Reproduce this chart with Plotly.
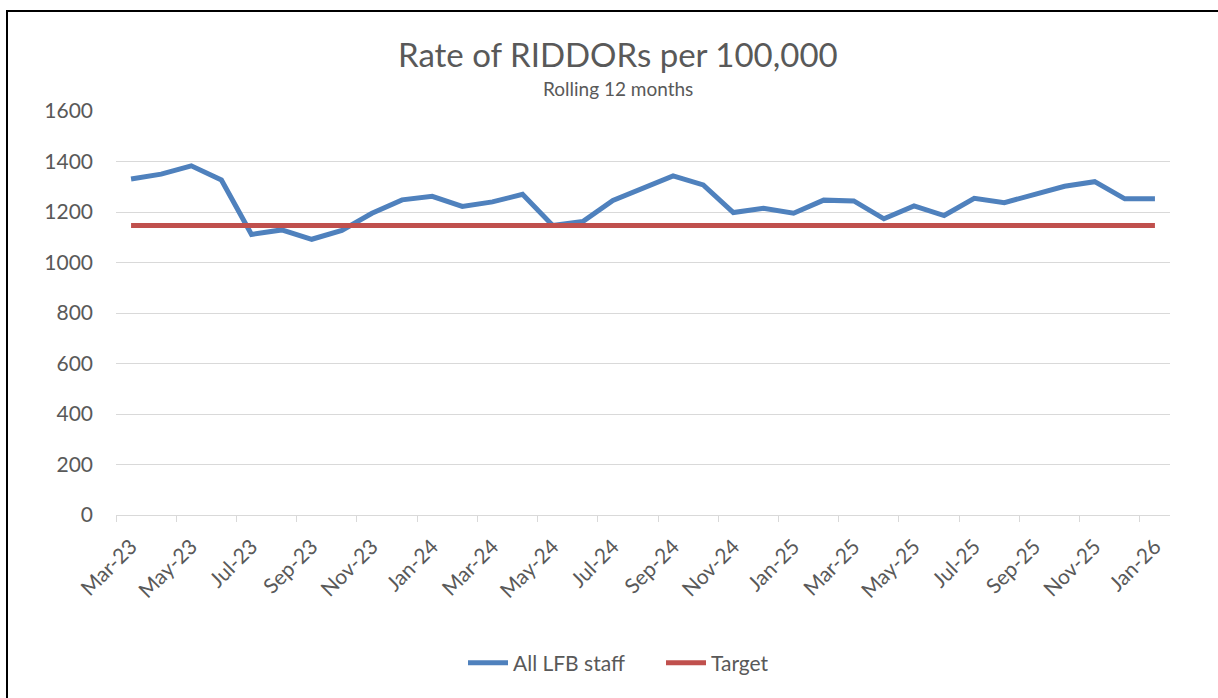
import plotly.graph_objects as go

MONTHS = ["Mar-23", "Apr-23", "May-23", "Jun-23", "Jul-23", "Aug-23", "Sep-23", "Oct-23",
          "Nov-23", "Dec-23", "Jan-24", "Feb-24", "Mar-24", "Apr-24", "May-24", "Jun-24",
          "Jul-24", "Aug-24", "Sep-24", "Oct-24", "Nov-24", "Dec-24", "Jan-25", "Feb-25",
          "Mar-25", "Apr-25", "May-25", "Jun-25", "Jul-25", "Aug-25", "Sep-25", "Oct-25",
          "Nov-25", "Dec-25", "Jan-26"]

ALL_LFB_STAFF = [1331, 1350, 1383, 1327, 1111, 1129, 1092, 1127,
                 1195, 1248, 1262, 1222, 1240, 1270, 1147, 1162,
                 1246, 1292, 1343, 1307, 1198, 1215, 1195, 1247,
                 1244, 1173, 1224, 1186, 1254, 1237, 1268, 1302,
                 1320, 1252, 1252]

TARGET = [1147, 1147, 1147, 1147, 1147, 1147, 1147, 1147,
          1147, 1147, 1147, 1147, 1147, 1147, 1147, 1147,
          1147, 1147, 1147, 1147, 1147, 1147, 1147, 1147,
          1147, 1147, 1147, 1147, 1147, 1147, 1147, 1147,
          1147, 1147, 1147]

Y_TICKS = [0, 200, 400, 600, 800, 1000, 1200, 1400, 1600]

TITLE = "Rate of RIDDORs per 100,000"
SUBTITLE = "Rolling 12 months"

FONT = "Lato"
GREY = "#595959"
BLUE = "#4F81BD"
RED = "#C0504D"
GRID = "#D9D9D9"

x_idx = list(range(len(MONTHS)))
label_idx = x_idx[::2]
boundary_ticks = [i - 0.5 for i in label_idx]

fig = go.Figure()
fig.add_trace(go.Scatter(x=x_idx, y=ALL_LFB_STAFF, mode="lines", name="All LFB staff",
                         line=dict(color=BLUE, width=5)))
fig.add_trace(go.Scatter(x=x_idx, y=TARGET, mode="lines", name="Target",
                         line=dict(color=RED, width=5)))

W, H = 1218, 698
L, R, T, B = 116, 48, 111, 183
pw, ph = W - L - R, H - T - B

def px(xp):
    return (xp - L) / pw

def py(yp):
    return (H - B - yp) / ph

fig.update_layout(
    width=W, height=H,
    margin=dict(l=L, r=R, t=T, b=B, pad=0),
    paper_bgcolor="white", plot_bgcolor="white",
    font=dict(family=FONT, color=GREY, size=20),
    showlegend=True,
    legend=dict(orientation="h", x=px(661), xanchor="center", y=py(663), yanchor="middle",
                font=dict(size=21, color=GREY), itemwidth=40, traceorder="normal",
                entrywidth=143, entrywidthmode="pixels"),
    xaxis=dict(
        range=[-0.5, len(MONTHS) - 0.5],
        tickmode="array", tickvals=label_idx, ticktext=MONTHS[::2],
        tickangle=-45, ticks="", showgrid=False, zeroline=False,
        showline=True, linecolor=GRID, linewidth=1,
        tickfont=dict(size=21, color=GREY), ticklabelstandoff=10,
        minor=dict(tickmode="array", tickvals=boundary_ticks, ticks="outside",
                   ticklen=6, tickcolor=GRID, tickwidth=1, showgrid=False),
        fixedrange=True,
    ),
    yaxis=dict(
        range=[0, 1600], tickmode="array", tickvals=Y_TICKS,
        showgrid=True, gridcolor=GRID, gridwidth=1, zeroline=False,
        showline=False, ticks="", ticklabelstandoff=22,
        tickfont=dict(size=21, color=GREY),
        fixedrange=True,
    ),
    annotations=[
        dict(text=TITLE, xref="paper", yref="paper", x=px(618), y=py(54),
             xanchor="center", yanchor="middle", showarrow=False,
             font=dict(size=33, color=GREY, family=FONT)),
        dict(text=SUBTITLE, xref="paper", yref="paper", x=px(618), y=py(89),
             xanchor="center", yanchor="middle", showarrow=False,
             font=dict(size=19, color=GREY, family=FONT)),
    ],
    shapes=[
        dict(type="rect", xref="paper", yref="paper",
             x0=px(7), x1=px(1300), y0=py(800), y1=py(11),
             line=dict(color="black", width=2), fillcolor="rgba(0,0,0,0)", layer="above"),
    ],
)

fig.write_html("out.html", config={"displayModeBar": False},
               post_script="document.body.style.margin='0';document.body.style.padding='0';")
